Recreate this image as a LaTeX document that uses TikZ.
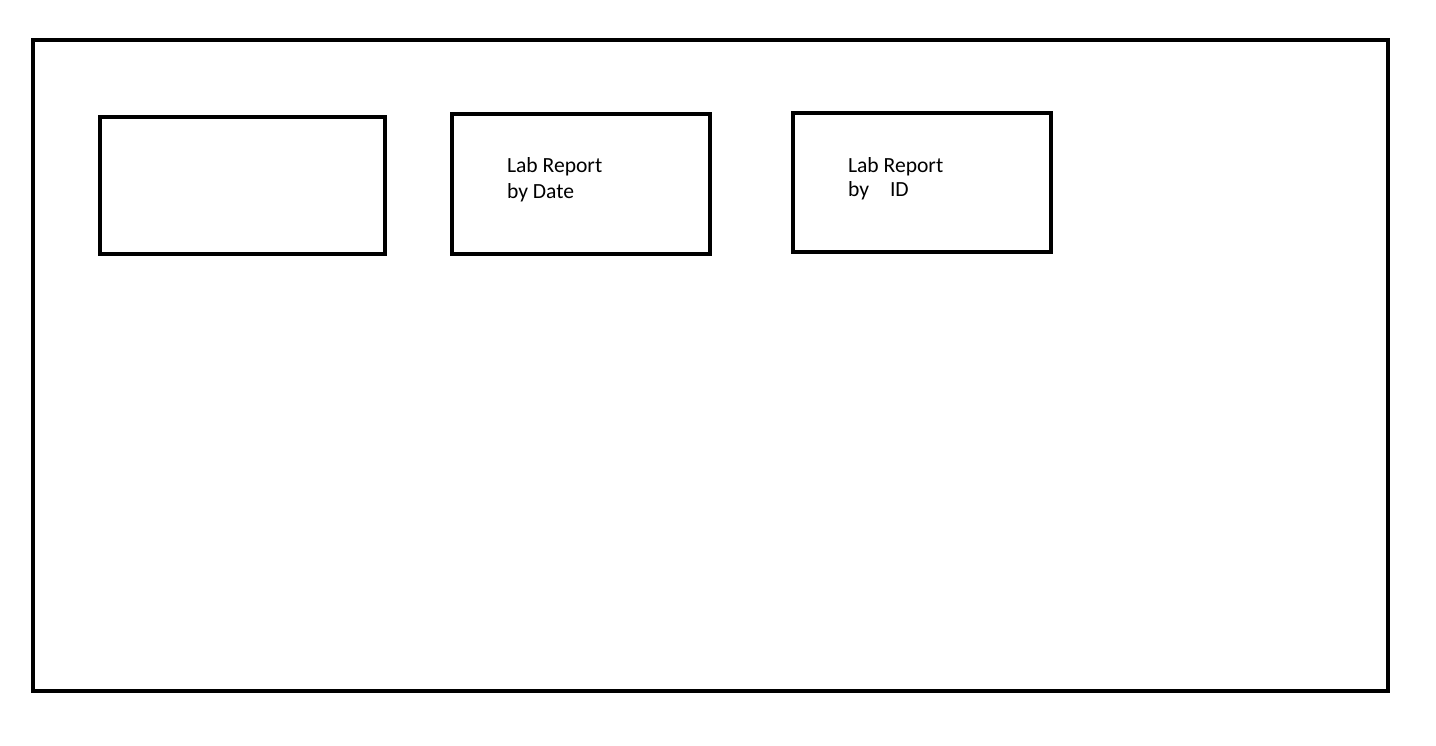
\documentclass[tikz,border=0pt]{standalone}
\usepackage{fontspec}
\setmainfont{Carlito}
\usetikzlibrary{positioning}

\begin{document}
\begin{tikzpicture}[x = 0.5pt, y = -0.5pt, line width = 2pt]
		\tikzset{
			panel/.style = {draw, inner sep = 0pt, minimum width = 129pt, minimum height = 70pt},
			caption/.style = {anchor = base west, inner sep = 0pt, align = left, font = \fontsize{10.8}{13}\selectfont}
		}
		
		\useasboundingbox (0,0) rectangle (1436,745);
		
		% outer frame
		\draw (33,40) rectangle (1388,691);
		
		\node [panel, minimum width = 142.5pt, minimum height = 68.5pt] (blank) at (242.5,185.5) {};
		\node [panel] (bydate) at (581,184) {};
		\node [panel, minimum height = 69.5pt] (byid) at (922,182.5) {};
		
		% base anchor sits on the last line
		\node [caption] (datetext) at (505,198.7) {Lab Report\\by Date};
		\node [caption, font = \fontsize{10.8}{12}\selectfont] (idtext) at (846,196) {Lab Report\\by\hspace{10.5pt}ID};
	\end{tikzpicture}
\end{document}
